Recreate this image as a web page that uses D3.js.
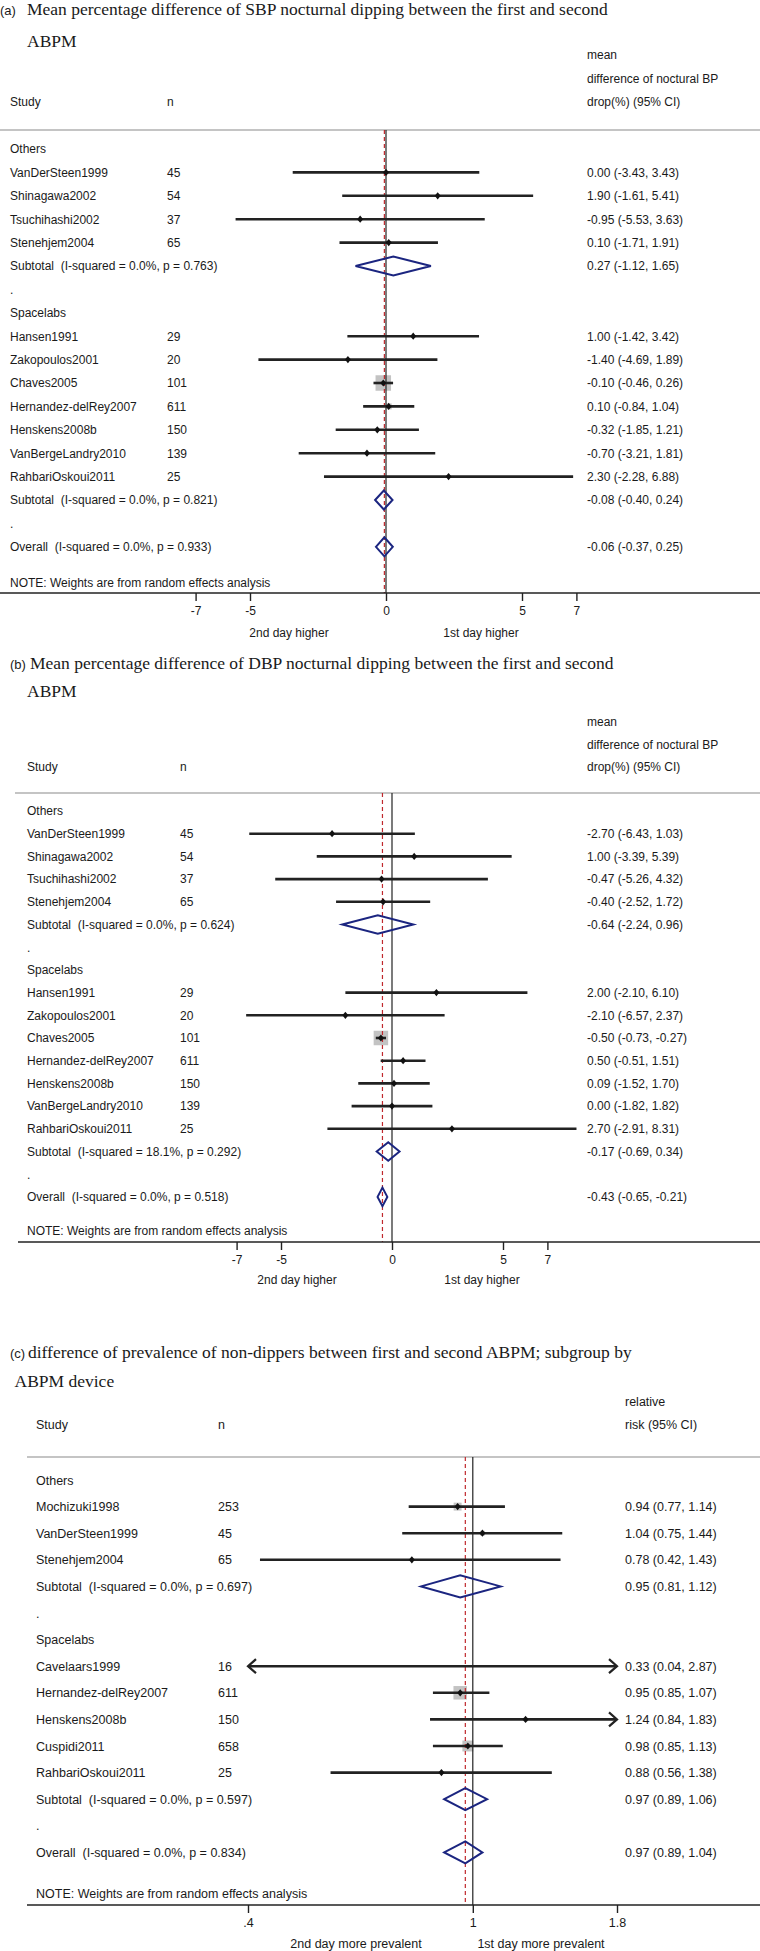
<!DOCTYPE html>
<html><head><meta charset="utf-8">
<script src="https://cdn.jsdelivr.net/npm/d3@7/dist/d3.min.js"></script>
<style>body{margin:0;background:#fff}svg{display:block}</style>
</head><body>
<svg id="chart" width="760" height="1951"></svg>
<script>
// ---------------- DATA ----------------
// Panel (a): SBP
const A_group = ["Others","Others","Others","Others","Spacelabs","Spacelabs","Spacelabs","Spacelabs","Spacelabs","Spacelabs","Spacelabs"];
const A_study = ["VanDerSteen1999","Shinagawa2002","Tsuchihashi2002","Stenehjem2004","Hansen1991","Zakopoulos2001","Chaves2005","Hernandez-delRey2007","Henskens2008b","VanBergeLandry2010","RahbariOskoui2011"];
const A_n   = [45,54,37,65,29,20,101,611,150,139,25];
const A_est = [0.00,1.90,-0.95,0.10,1.00,-1.40,-0.10,0.10,-0.32,-0.70,2.30];
const A_lo  = [-3.43,-1.61,-5.53,-1.71,-1.42,-4.69,-0.46,-0.84,-1.85,-3.21,-2.28];
const A_hi  = [3.43,5.41,3.63,1.91,3.42,1.89,0.26,1.04,1.21,1.81,6.88];
const A_wt  = [0.8,0.8,0.5,3.0,1.7,0.9,75.2,11.0,4.2,1.6,0.5];
const A_poolLabel = ["Subtotal  (I-squared = 0.0%, p = 0.763)","Subtotal  (I-squared = 0.0%, p = 0.821)","Overall  (I-squared = 0.0%, p = 0.933)"];
const A_poolEst = [0.27,-0.08,-0.06];
const A_poolLo  = [-1.12,-0.40,-0.37];
const A_poolHi  = [1.65,0.24,0.25];
const A_ticks = [-7,-5,0,5,7];
const A_tickLabels = ["-7","-5","0","5","7"];

// Panel (b): DBP
const B_group = A_group;
const B_study = A_study;
const B_n   = [45,54,37,65,29,20,101,611,150,139,25];
const B_est = [-2.70,1.00,-0.47,-0.40,2.00,-2.10,-0.50,0.50,0.09,0.00,2.70];
const B_lo  = [-6.43,-3.39,-5.26,-2.52,-2.10,-6.57,-0.73,-0.51,-1.52,-1.82,-2.91];
const B_hi  = [1.03,5.39,4.32,1.72,6.10,2.37,-0.27,1.51,1.70,1.82,8.31];
const B_wt  = [0.3,0.2,0.2,1.1,0.3,0.2,89.6,4.6,1.8,1.4,0.2];
const B_poolLabel = ["Subtotal  (I-squared = 0.0%, p = 0.624)","Subtotal  (I-squared = 18.1%, p = 0.292)","Overall  (I-squared = 0.0%, p = 0.518)"];
const B_poolEst = [-0.64,-0.17,-0.43];
const B_poolLo  = [-2.24,-0.69,-0.65];
const B_poolHi  = [0.96,0.34,-0.21];
const B_ticks = [-7,-5,0,5,7];
const B_tickLabels = ["-7","-5","0","5","7"];

// Panel (c): prevalence of non-dippers (relative risk)
const C_group = ["Others","Others","Others","Spacelabs","Spacelabs","Spacelabs","Spacelabs","Spacelabs"];
const C_study = ["Mochizuki1998","VanDerSteen1999","Stenehjem2004","Cavelaars1999","Hernandez-delRey2007","Henskens2008b","Cuspidi2011","RahbariOskoui2011"];
const C_n   = [253,45,65,16,611,150,658,25];
const C_est = [0.94,1.04,0.78,0.33,0.95,1.24,0.98,0.88];
const C_lo  = [0.77,0.75,0.42,0.04,0.85,0.84,0.85,0.56];
const C_hi  = [1.14,1.44,1.43,2.87,1.07,1.83,1.13,1.38];
const C_wt  = [14.9,5.4,1.5,0.1,43.3,3.8,28.2,2.8];
const C_poolLabel = ["Subtotal  (I-squared = 0.0%, p = 0.697)","Subtotal  (I-squared = 0.0%, p = 0.597)","Overall  (I-squared = 0.0%, p = 0.834)"];
const C_poolEst = [0.95,0.97,0.97];
const C_poolLo  = [0.81,0.89,0.89];
const C_poolHi  = [1.12,1.06,1.04];
const C_ticks = [0.4,1,1.8];
const C_tickLabels = [".4","1","1.8"];

// ---------------- DRAWING ----------------
const SANS = "'Liberation Sans', Arial, Helvetica, sans-serif";
const SERIF = "'Liberation Serif', 'Times New Roman', serif";
const svg = d3.select("#chart");
const f2 = d3.formatLocale({decimal: ".", thousands: ",", grouping: [3], currency: ["", ""], minus: "-"}).format(".2f");
const TXT = "#1a1a1a", NAVY = "#1b2580", RED = "#c0282d";

function panel(cfg, d) {
  const g = svg.append("g");
  const fs = cfg.fs;
  // title
  g.append("text").attr("x", cfg.prefixX).attr("y", cfg.titleY)
    .attr("font-family", SANS).attr("font-size", 13).attr("fill", TXT).text(cfg.prefix);
  g.append("text").attr("x", cfg.titleX).attr("y", cfg.titleY)
    .attr("font-family", SERIF).attr("font-size", 17.5).attr("fill", TXT).text(cfg.title1);
  g.append("text").attr("x", cfg.title2X).attr("y", cfg.title2Y)
    .attr("font-family", SERIF).attr("font-size", 17.5).attr("fill", TXT).text(cfg.title2);
  // headers
  cfg.valHead.forEach((s, i) => {
    g.append("text").attr("x", cfg.valX).attr("y", cfg.valHeadY[i])
      .attr("font-family", SANS).attr("font-size", fs).attr("fill", TXT).text(s);
  });
  const hy = cfg.valHeadY[cfg.valHeadY.length - 1];
  g.append("text").attr("x", cfg.studyX).attr("y", hy).attr("font-family", SANS).attr("font-size", fs).attr("fill", TXT).text("Study");
  g.append("text").attr("x", cfg.nX).attr("y", hy).attr("font-family", SANS).attr("font-size", fs).attr("fill", TXT).text("n");
  // separator
  g.append("line").attr("x1", cfg.sepX1).attr("x2", 760).attr("y1", cfg.sepY).attr("y2", cfg.sepY)
    .attr("stroke", "#c4c4c4").attr("stroke-width", 2);

  // rows
  const rows = [];
  const groups = Array.from(new Set(d.group));
  groups.forEach((gr, gi) => {
    rows.push({type: "group", label: gr});
    d.study.forEach((s, i) => { if (d.group[i] === gr) rows.push({type: "study", i}); });
    rows.push({type: "pool", i: gi});
    rows.push({type: "blank"});
  });
  rows.push({type: "pool", i: 2});
  const y = d3.scaleLinear().domain([0, rows.length - 1]).range([cfg.rowY0, cfg.rowY0 + cfg.rowStep * (rows.length - 1)]);
  const x = cfg.x;
  const [dmin, dmax] = x.domain();
  const wmax = d3.max(d.wt);
  const side = d3.scaleSqrt().domain([0, wmax]).range([0, cfg.boxMax]);
  const base = fs * 0.36;

  rows.forEach((r, ri) => { r.y = y(ri); });

  // labels
  rows.forEach(r => {
    let lab = null;
    if (r.type === "group") lab = r.label;
    else if (r.type === "study") lab = d.study[r.i];
    else if (r.type === "pool") lab = d.poolLabel[r.i];
    else lab = ".";
    g.append("text").attr("x", cfg.studyX).attr("y", r.y + base).attr("font-family", SANS)
      .attr("font-size", fs).attr("fill", TXT).attr("xml:space", "preserve").style("white-space", "pre").text(lab);
    if (r.type === "study") {
      g.append("text").attr("x", cfg.nX).attr("y", r.y + base).attr("font-family", SANS)
        .attr("font-size", fs).attr("fill", TXT).text(d.n[r.i]);
      g.append("text").attr("x", cfg.valX).attr("y", r.y + base).attr("font-family", SANS)
        .attr("font-size", fs).attr("fill", TXT)
        .text(`${f2(d.est[r.i])} (${f2(d.lo[r.i])}, ${f2(d.hi[r.i])})`);
    }
    if (r.type === "pool") {
      g.append("text").attr("x", cfg.valX).attr("y", r.y + base).attr("font-family", SANS)
        .attr("font-size", fs).attr("fill", TXT)
        .text(`${f2(d.poolEst[r.i])} (${f2(d.poolLo[r.i])}, ${f2(d.poolHi[r.i])})`);
    }
  });

  // weight boxes
  rows.filter(r => r.type === "study" && d.est[r.i] >= dmin && d.est[r.i] <= dmax).forEach(r => {
    const s = side(d.wt[r.i]);
    g.append("rect").attr("x", x(d.est[r.i]) - s / 2).attr("y", r.y - s / 2)
      .attr("width", s).attr("height", s).attr("fill", "#c3c3c3");
  });

  // reference lines
  const lineTop = cfg.sepY, lineBot = cfg.axisY;
  g.append("line").attr("x1", x(cfg.nullV)).attr("x2", x(cfg.nullV)).attr("y1", lineTop).attr("y2", lineBot)
    .attr("stroke", "#222").attr("stroke-width", 1.2);
  g.append("line").attr("x1", x(d.poolEst[2])).attr("x2", x(d.poolEst[2])).attr("y1", lineTop).attr("y2", lineBot)
    .attr("stroke", RED).attr("stroke-width", 1.2).attr("stroke-dasharray", "4,3");

  // CI lines + arrows
  rows.filter(r => r.type === "study").forEach(r => {
    const lo = Math.max(d.lo[r.i], dmin), hi = Math.min(d.hi[r.i], dmax);
    const x1 = cfg.clip ? x(lo) : x(d.lo[r.i]);
    const x2 = cfg.clip ? x(hi) : x(d.hi[r.i]);
    g.append("line").attr("x1", x1).attr("x2", x2).attr("y1", r.y).attr("y2", r.y)
      .attr("stroke", "#222").attr("stroke-width", 2.6);
    if (cfg.clip && d.lo[r.i] < dmin) {
      g.append("path").attr("d", `M${x1 + 8},${r.y - 7}L${x1},${r.y}L${x1 + 8},${r.y + 7}`)
        .attr("fill", "none").attr("stroke", "#222").attr("stroke-width", 2.2);
    }
    if (cfg.clip && d.hi[r.i] > dmax) {
      g.append("path").attr("d", `M${x2 - 8},${r.y - 7}L${x2},${r.y}L${x2 - 8},${r.y + 7}`)
        .attr("fill", "none").attr("stroke", "#222").attr("stroke-width", 2.2);
    }
    const e = d.est[r.i];
    if (e >= dmin && e <= dmax) {
      const cx = x(e);
      g.append("path").attr("d", `M${cx},${r.y - 3.6}L${cx + 3},${r.y}L${cx},${r.y + 3.6}L${cx - 3},${r.y}Z`)
        .attr("fill", "#111");
    }
  });

  // pooled diamonds
  rows.filter(r => r.type === "pool").forEach(r => {
    const h = cfg.diaH;
    const xl = x(d.poolLo[r.i]), xe = x(d.poolEst[r.i]), xh = x(d.poolHi[r.i]);
    g.append("path").attr("d", `M${xl},${r.y}L${xe},${r.y - h}L${xh},${r.y}L${xe},${r.y + h}Z`)
      .attr("fill", "none").attr("stroke", NAVY).attr("stroke-width", 2);
  });

  // note
  g.append("text").attr("x", cfg.studyX).attr("y", cfg.noteY + base).attr("font-family", SANS)
    .attr("font-size", fs).attr("fill", TXT).text("NOTE: Weights are from random effects analysis");

  // axis
  g.append("line").attr("x1", cfg.axisX1).attr("x2", 760).attr("y1", cfg.axisY).attr("y2", cfg.axisY)
    .attr("stroke", "#222").attr("stroke-width", 1.4);
  const ax = g.append("g").attr("transform", `translate(0,${cfg.axisY})`)
    .call(d3.axisBottom(x).tickValues(d.ticks).tickSize(8).tickPadding(5)
      .tickFormat((v, i) => d.tickLabels[i]));
  ax.select(".domain").remove();
  ax.selectAll(".tick line").attr("stroke", "#222").attr("stroke-width", 1.4);
  ax.selectAll(".tick text").attr("font-family", SANS).attr("font-size", fs).attr("fill", TXT);

  // favours labels
  cfg.favours.forEach(f => {
    g.append("text").attr("x", f.x).attr("y", cfg.favY + base).attr("text-anchor", "middle")
      .attr("font-family", SANS).attr("font-size", fs).attr("fill", TXT).text(f.t);
  });
}

panel({
  fs: 12, prefix: "(a)", prefixX: 0, titleX: 27, titleY: 15,
  title1: "Mean percentage difference of SBP nocturnal dipping between the first and second",
  title2: "ABPM", title2X: 27, title2Y: 47,
  valHead: ["mean", "difference of noctural BP", "drop(%) (95% CI)"], valHeadY: [59, 83, 106],
  valX: 587, studyX: 10, nX: 167, sepY: 130, sepX1: 0,
  rowY0: 149, rowStep: 23.4, boxMax: 15.5, diaH: 9.5,
  x: d3.scaleLinear().domain([-7, 7]).range([386 - 7 * 27.2, 386 + 7 * 27.2]),
  nullV: 0, clip: false,
  noteY: 583, axisY: 593, axisX1: 0, favY: 633,
  favours: [{x: 289, t: "2nd day higher"}, {x: 481, t: "1st day higher"}]
}, {group: A_group, study: A_study, n: A_n, est: A_est, lo: A_lo, hi: A_hi, wt: A_wt,
    poolLabel: A_poolLabel, poolEst: A_poolEst, poolLo: A_poolLo, poolHi: A_poolHi,
    ticks: A_ticks, tickLabels: A_tickLabels});

panel({
  fs: 12, prefix: "(b)", prefixX: 10, titleX: 30, titleY: 669,
  title1: "Mean percentage difference of DBP nocturnal dipping between the first and second",
  title2: "ABPM", title2X: 27, title2Y: 697,
  valHead: ["mean", "difference of noctural BP", "drop(%) (95% CI)"], valHeadY: [726, 749, 771],
  valX: 587, studyX: 27, nX: 180, sepY: 793, sepX1: 15,
  rowY0: 811, rowStep: 22.7, boxMax: 14.5, diaH: 9.3,
  x: d3.scaleLinear().domain([-7, 7]).range([392 - 7 * 22.2, 392 + 7 * 22.2]),
  nullV: 0, clip: false,
  noteY: 1231, axisY: 1242, axisX1: 18, favY: 1280,
  favours: [{x: 297, t: "2nd day higher"}, {x: 482, t: "1st day higher"}]
}, {group: B_group, study: B_study, n: B_n, est: B_est, lo: B_lo, hi: B_hi, wt: B_wt,
    poolLabel: B_poolLabel, poolEst: B_poolEst, poolLo: B_poolLo, poolHi: B_poolHi,
    ticks: B_ticks, tickLabels: B_tickLabels});

panel({
  fs: 12.5, prefix: "(c)", prefixX: 10, titleX: 28, titleY: 1358,
  title1: "difference of prevalence of non-dippers between first and second ABPM; subgroup by",
  title2: "ABPM device", title2X: 14.5, title2Y: 1387,
  valHead: ["relative", "risk (95% CI)"], valHeadY: [1406, 1429],
  valX: 625, studyX: 36, nX: 218, sepY: 1457, sepX1: 27,
  rowY0: 1480, rowStep: 26.6, boxMax: 13.5, diaH: 11,
  x: d3.scaleLog().domain([0.4, 1.8]).range([248, 617]),
  nullV: 1, clip: true,
  noteY: 1893, axisY: 1905, axisX1: 27, favY: 1943,
  favours: [{x: 356, t: "2nd day more prevalent"}, {x: 541, t: "1st day more prevalent"}]
}, {group: C_group, study: C_study, n: C_n, est: C_est, lo: C_lo, hi: C_hi, wt: C_wt,
    poolLabel: C_poolLabel, poolEst: C_poolEst, poolLo: C_poolLo, poolHi: C_poolHi,
    ticks: C_ticks, tickLabels: C_tickLabels});
</script>
</body></html>
